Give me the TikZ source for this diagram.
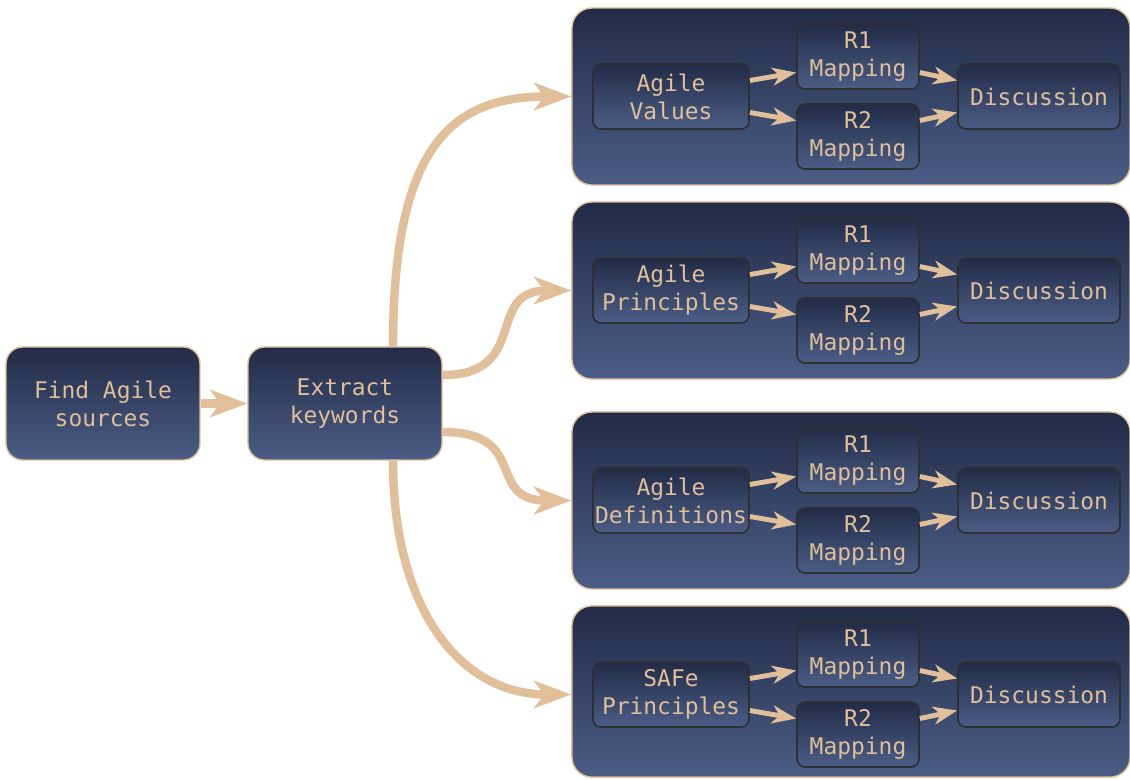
\documentclass[tikz,border=0pt]{standalone}
\usepackage{fontspec}
\setmonofont{DejaVu Sans Mono}
\usetikzlibrary{arrows.meta}

\definecolor{sand}{HTML}{E0BF9A}
\definecolor{navytop}{HTML}{212B46}
\definecolor{navybot}{HTML}{4B5D86}
\definecolor{rimgray}{HTML}{2E2F33}

\tikzset{
  mainbox/.style={draw=sand, line width=1pt, rounded corners=0.42cm,
    top color=navytop, bottom color=navybot, text=sand, align=center,
    minimum width=4.85cm, minimum height=2.825cm,
    font=\ttfamily\fontsize{16.3}{19.9}\selectfont},
  groupbox/.style={draw=sand, line width=1pt, rounded corners=0.5cm,
    top color=navytop, bottom color=navybot,
    minimum width=13.95cm, minimum height=4.425cm},
  innerbox/.style={draw=rimgray, line width=1.2pt, rounded corners=0.2cm,
    top color=navytop, bottom color=navybot, text=sand, align=center,
    minimum height=1.625cm, inner sep=1pt,
    font=\ttfamily\fontsize{16.3}{19.9}\selectfont},
  flow/.style={sand, line width=6pt,
    -{Stealth[length=0.925cm,width=0.68cm,inset=0.25cm]}},
  subflow/.style={sand, line width=3.5pt,
    -{Stealth[length=0.6cm,width=0.45cm,inset=0.18cm]}}
}

\begin{document}
\begin{tikzpicture}[x=0.025cm,y=-0.025cm]
\useasboundingbox (0,0) rectangle (1130,779);

\node[mainbox] (find) at (103,403.5) {Find Agile\\sources};
\node[mainbox] (extract) at (345,403.5) {Extract\\keywords};

%group boxes
\node[groupbox] (box1) at (851,96.5) {};
\node[groupbox] (box2) at (851,290.5) {};
\node[groupbox] (box3) at (851,500.5) {};
\node[groupbox, minimum height=4.28cm] (box4) at (851,691.5) {};

%row 1
\node[innerbox, minimum width=3.9cm] (src1) at (671,96.5) {Agile\\Values};
\node[innerbox, minimum width=3.05cm] (ra1) at (858,56.5) {R1\\Mapping};
\node[innerbox, minimum width=3.05cm] (rb1) at (858,136.5) {R2\\Mapping};
\node[innerbox, minimum width=4.05cm] (disc1) at (1039,96.5) {Discussion};

%row 2
\node[innerbox, minimum width=3.9cm] (src2) at (671,290.5) {Agile\\Principles};
\node[innerbox, minimum width=3.05cm] (ra2) at (858,250.5) {R1\\Mapping};
\node[innerbox, minimum width=3.05cm] (rb2) at (858,330.5) {R2\\Mapping};
\node[innerbox, minimum width=4.05cm] (disc2) at (1039,290.5) {Discussion};

%row 3
\node[innerbox, minimum width=3.9cm] (src3) at (671,500.5) {Agile\\Definitions};
\node[innerbox, minimum width=3.05cm] (ra3) at (858,460.5) {R1\\Mapping};
\node[innerbox, minimum width=3.05cm] (rb3) at (858,540.5) {R2\\Mapping};
\node[innerbox, minimum width=4.05cm] (disc3) at (1039,500.5) {Discussion};

%row 4
\node[innerbox, minimum width=3.9cm] (src4) at (671,694.5) {SAFe\\Principles};
\node[innerbox, minimum width=3.05cm] (ra4) at (858,654.5) {R1\\Mapping};
\node[innerbox, minimum width=3.05cm] (rb4) at (858,734.5) {R2\\Mapping};
\node[innerbox, minimum width=4.05cm] (disc4) at (1039,694.5) {Discussion};

%main flow
\draw[flow] (find) -- (extract);
\draw[flow] ([xshift=1.2cm]extract.north) .. controls +(0,-200) and +(-120,0) .. (box1.west);
\draw[flow] ([yshift=0.7125cm]extract.east) .. controls +(88,0) and +(-87,0) .. (box2.west);
\draw[flow] ([yshift=-0.7125cm]extract.east) .. controls +(88,0) and +(-87,0) .. (box3.west);
\draw[flow] ([xshift=1.2cm]extract.south) .. controls +(0,150) and +(-110,0) .. (src4.west -| box4.west);

%inner flows
\draw[subflow] ([yshift=0.4cm]src1.east) -- ([yshift=-0.4cm]ra1.west);
\draw[subflow] ([yshift=-0.4cm]src1.east) -- ([yshift=0.4cm]rb1.west);
\draw[subflow] ([yshift=-0.4cm]ra1.east) -- ([yshift=0.4cm]disc1.west);
\draw[subflow] ([yshift=0.4cm]rb1.east) -- ([yshift=-0.4cm]disc1.west);

\draw[subflow] ([yshift=0.4cm]src2.east) -- ([yshift=-0.4cm]ra2.west);
\draw[subflow] ([yshift=-0.4cm]src2.east) -- ([yshift=0.4cm]rb2.west);
\draw[subflow] ([yshift=-0.4cm]ra2.east) -- ([yshift=0.4cm]disc2.west);
\draw[subflow] ([yshift=0.4cm]rb2.east) -- ([yshift=-0.4cm]disc2.west);

\draw[subflow] ([yshift=0.4cm]src3.east) -- ([yshift=-0.4cm]ra3.west);
\draw[subflow] ([yshift=-0.4cm]src3.east) -- ([yshift=0.4cm]rb3.west);
\draw[subflow] ([yshift=-0.4cm]ra3.east) -- ([yshift=0.4cm]disc3.west);
\draw[subflow] ([yshift=0.4cm]rb3.east) -- ([yshift=-0.4cm]disc3.west);

\draw[subflow] ([yshift=0.4cm]src4.east) -- ([yshift=-0.4cm]ra4.west);
\draw[subflow] ([yshift=-0.4cm]src4.east) -- ([yshift=0.4cm]rb4.west);
\draw[subflow] ([yshift=-0.4cm]ra4.east) -- ([yshift=0.4cm]disc4.west);
\draw[subflow] ([yshift=0.4cm]rb4.east) -- ([yshift=-0.4cm]disc4.west);
\end{tikzpicture}
\end{document}
